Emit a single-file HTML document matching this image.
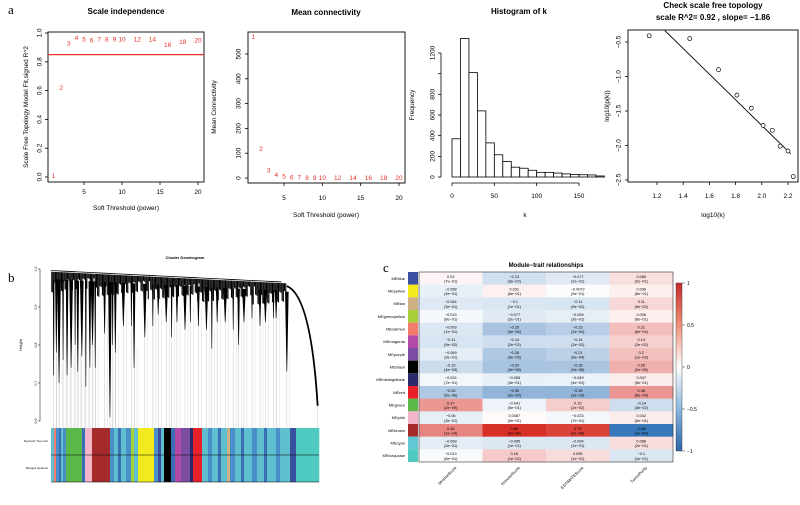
<!DOCTYPE html>
<html><head><meta charset="utf-8"><style>
body{margin:0;background:#fff;width:800px;height:500px;overflow:hidden}
svg{font-family:"Liberation Sans",Arial,sans-serif}
</style></head><body>
<svg id="s" width="800" height="500" viewBox="0 0 800 500"></svg>
<script>
// ---------- DATA ----------
const powers=[1,2,3,4,5,6,7,8,9,10,12,14,16,18,20];
const sftFit=[0.01,0.62,0.93,0.97,0.96,0.95,0.96,0.96,0.96,0.96,0.96,0.96,0.92,0.94,0.95];
const meanK=[570,118,33,14,8,5,4,3,3,3,2,2,2,2,2];
const histCounts=[370,1340,1010,640,330,215,150,95,85,65,45,45,38,30,25,22,20,10];
const histBinWidth=10;
const logK=[1.14,1.45,1.67,1.81,1.92,2.01,2.08,2.14,2.20,2.24];
const logP=[-0.41,-0.45,-0.90,-1.27,-1.46,-1.71,-1.78,-2.01,-2.08,-2.45];
const fitIntercept=2.01, fitSlope=-1.86;
const modules=["MEblue","MEyellow","MEtan","MEgreenyellow","MEsalmon","MEmagenta","MEpurple","MEblack","MEmidnightblue","MEred","MEgreen","MEpink","MEbrown","MEcyan","MEturquoise"];
const moduleColors=["#3a4fa0","#f2ea1c","#cdb083","#a8cf3a","#f47c6d","#b44aa8","#7b4ea3","#000000","#2b2a6a","#e8202a","#5cb848","#f3b6c9","#a52a2a","#5fc8d2","#4ecac0"];
const traits=["StromalScore","ImmuneScore","ESTIMATEScore","TumorPurity"];
const corVals=[
[0.02,-0.13,-0.077,0.085],[-0.058,0.031,-0.0072,0.036],[-0.084,-0.1,-0.11,0.11],[-0.019,-0.077,-0.059,0.036],
[-0.093,-0.29,-0.23,0.21],[-0.11,-0.14,-0.14,0.14],[-0.069,-0.26,-0.21,0.2],[-0.15,-0.29,-0.28,0.26],
[-0.024,-0.058,-0.049,0.047],[-0.26,-0.39,-0.39,0.38],[0.37,-0.041,0.15,-0.14],[-0.06,0.0087,-0.023,0.042],
[0.46,0.89,0.79,-0.82],[-0.069,-0.095,-0.094,0.088],[-0.013,0.16,0.095,-0.1]];
const pVals=[
["7e-01","3e-02","2e-01","2e-01"],["4e-01","6e-01","9e-01","6e-01"],["3e-01","1e-01","9e-02","9e-02"],["8e-01","2e-01","3e-01","6e-01"],
["1e-01","4e-06","2e-04","6e-04"],["9e-02","2e-02","2e-02","2e-02"],["3e-01","3e-05","6e-04","1e-03"],["4e-03","3e-06","9e-06","2e-05"],
["7e-01","4e-01","4e-01","5e-01"],["5e-06","2e-10","2e-10","5e-09"],["2e-09","5e-01","2e-02","3e-02"],["3e-01","9e-01","7e-01","5e-01"],
["1e-14","1e-84","2e-55","1e-63"],["3e-01","1e-01","1e-01","2e-01"],["8e-01","1e-02","1e-01","1e-01"]];
const leafDrops=[[0.01,0.72],[0.02,0.78],[0.03,0.70],[0.045,0.76],[0.06,0.72],[0.075,0.74],[0.09,0.80],[0.1,0.73],[0.115,0.77],[0.13,0.69],[0.145,0.74],[0.155,0.80],[0.165,0.74],[0.2,0.83],[0.22,0.61],[0.23,0.80],[0.24,0.78],[0.27,0.85],[0.3,0.85],[0.31,0.74],[0.35,0.82],[0.38,0.85],[0.4,0.88],[0.43,0.86],[0.45,0.82],[0.47,0.86],[0.5,0.84],[0.52,0.86],[0.55,0.85],[0.58,0.84],[0.6,0.79],[0.62,0.86],[0.65,0.86],[0.68,0.84],[0.7,0.80],[0.72,0.86],[0.75,0.87],[0.78,0.85],[0.8,0.86],[0.83,0.87],[0.84,0.87],[0.88,0.73]];
const colorSegs=[["#5fbfcf",3],["#f47c6d",2],["#4a90c8",3],["#3b6fb5",2],["#5fbfcf",2],["#4a90c8",3],["#5cb848",16],["#3b6fb5",3],["#f3b6c9",7],["#a52a2a",18],["#4a90c8",4],["#5fbfcf",4],["#3b6fb5",3],["#5fbfcf",5],["#4a90c8",5],["#a8cf3a",3],["#5fbfcf",4],["#f2ea1c",16],["#4a90c8",4],["#3a4fa0",3],["#5fbfcf",3],["#000000",7],["#3b6fb5",4],["#b44aa8",6],["#7b4ea3",9],["#2b2a6a",3],["#e8202a",9],["#5fbfcf",6],["#4a90c8",4],["#5fbfcf",6],["#3b6fb5",3],["#5fbfcf",6],["#cdb083",3],["#4a90c8",5],["#5fbfcf",6],["#3b6fb5",3],["#5fbfcf",8],["#4a90c8",5],["#5fbfcf",7],["#3b6fb5",3],["#5fbfcf",9],["#4a90c8",4],["#5fbfcf",10],["#3a4fa0",6],["#4ecac0",23]];

// ---------- HELPERS ----------
const S=document.getElementById('s');const NS="http://www.w3.org/2000/svg";
function el(tag,at,txt){const e=document.createElementNS(NS,tag);for(const k in at)e.setAttribute(k,at[k]);if(txt!==undefined)e.textContent=txt;S.appendChild(e);return e;}
function T(x,y,s,at){return el('text',Object.assign({x:x,y:y,'font-size':7,'text-anchor':'middle',fill:'#000'},at||{}),s);}
function line(x1,y1,x2,y2,c,w){return el('line',{x1,y1,x2,y2,stroke:c||'#000','stroke-width':w||0.8});}
const lin=(d0,d1,r0,r1)=>v=>r0+(v-d0)*(r1-r0)/(d1-d0);

let t;
t=T(8,14,"a",{'font-size':13,'font-family':'Liberation Serif','text-anchor':'start'});


// ---------- PANEL 1 ----------
{const x=lin(5,20,84,198),y=lin(0,1,177,33);
let r=el('rect',{x:48,y:32,width:156,height:150,fill:'none',stroke:'#000','stroke-width':0.9});

t=T(126,14,"Scale independence",{'font-size':8,'font-weight':'bold'});
[5,10,15,20].forEach(v=>{line(x(v),182,x(v),185);T(x(v),194,v,{'font-size':6.5});});
[0,0.2,0.4,0.6,0.8,1.0].forEach(v=>{line(45,y(v),48,y(v));T(40,y(v),v.toFixed(1),{'font-size':6.5,transform:`rotate(-90 40 ${y(v)})`,'dominant-baseline':'middle'});});
t=T(126,210,"Soft Threshold (power)",{'font-size':6.5});
t=T(28,107,"Scale Free Topology Model Fit,signed R^2",{'font-size':6.5,transform:'rotate(-90 28 107)'});
let h=line(48,y(0.85),204,y(0.85),'#e8302a',1.2);
powers.forEach((p,i)=>{const e=T(x(p),y(sftFit[i])+2.5,p,{'font-size':6.5,fill:'#e8302a'});});}

// ---------- PANEL 2 ----------
{const x=lin(5,20,284,399),y=lin(0,500,178,54);
let r=el('rect',{x:248,y:32,width:157,height:151,fill:'none',stroke:'#000','stroke-width':0.9});

t=T(326,15,"Mean connectivity",{'font-size':8,'font-weight':'bold'});
[5,10,15,20].forEach(v=>{line(x(v),183,x(v),186);T(x(v),200,v,{'font-size':6.5});});
[0,100,200,300,400,500].forEach(v=>{line(245,y(v),248,y(v));T(239,y(v),v,{'font-size':6.5,transform:`rotate(-90 239 ${y(v)})`,'dominant-baseline':'middle'});});
T(326,217,"Soft Threshold (power)",{'font-size':6.5});
T(216,107,"Mean Connectivity",{'font-size':6.5,transform:'rotate(-90 216 107)'});
powers.forEach((p,i)=>{const e=T(x(p),y(meanK[i])+2.5,p,{'font-size':6.5,fill:'#e8302a'});});}

// ---------- PANEL 3 ----------
{const x=lin(0,150,452,579),y=lin(0,1200,177,53);
t=T(519,14,"Histogram of k",{'font-size':8,'font-weight':'bold'});
histCounts.forEach((c,i)=>{const b=el('rect',{x:x(i*histBinWidth),y:y(c),width:x(histBinWidth)-x(0),height:y(0)-y(c),fill:'#fff',stroke:'#000','stroke-width':0.8});
});
line(x(0),183,x(150),183);[0,50,100,150].forEach(v=>{line(x(v),183,x(v),186);T(x(v),198,v,{'font-size':6.5});});
line(441,y(0),441,y(1200));[0,200,400,600,800,1000,1200].forEach(v=>line(438,y(v),441,y(v)));
[0,200,400,600,800,1200].forEach(v=>T(433,y(v),v,{'font-size':6.5,transform:`rotate(-90 433 ${y(v)})`,'dominant-baseline':'middle'}));
T(525,217,"k",{'font-size':6.5});
T(414,105,"Frequency",{'font-size':6.5,transform:'rotate(-90 414 105)'});}

// ---------- PANEL 4 ----------
{const x=lin(1.2,2.2,657,788),y=lin(-0.5,-2.5,42,180);
let r=el('rect',{x:628,y:30,width:170,height:152,fill:'none',stroke:'#000','stroke-width':0.9});

T(713,8,"Check scale free topology",{'font-size':8,'font-weight':'bold'});
T(713,20,"scale R^2= 0.92 , slope= \u22121.86",{'font-size':8,'font-weight':'bold'});
[1.2,1.4,1.6,1.8,2.0,2.2].forEach(v=>{line(x(v),182,x(v),185);T(x(v),198,v.toFixed(1),{'font-size':6.5});});
[-0.5,-1.0,-1.5,-2.0,-2.5].forEach(v=>{line(625,y(v),628,y(v));T(619,y(v),v.toFixed(1).replace('-','\u2212'),{'font-size':6.5,transform:`rotate(-90 619 ${y(v)})`,'dominant-baseline':'middle'});});
T(713,217,"log10(k)",{'font-size':6.5});
T(609,106,"log10(p(k))",{'font-size':6.5,transform:'rotate(-90 609 106)'});
const x0=1.26,x1=2.22;let fl=line(x(x0),y(fitIntercept+fitSlope*x0),x(x1),y(fitIntercept+fitSlope*x1),'#000',0.9);

logK.forEach((k,i)=>{const c=el('circle',{cx:x(k),cy:y(logP[i]),r:2,fill:'#fff',stroke:'#000','stroke-width':0.7});});}

// ---------- PANEL B ----------
{t=T(8,282,"b",{'font-size':13,'font-family':'Liberation Serif','text-anchor':'start'});
const X0=51,X1=319,y=lin(1.0,0.6,269,421);
T(185,259,"Cluster Dendrogram",{'font-size':4,'font-weight':'bold'});
line(40,y(1),40,y(0.6),'#000',0.5);[0.6,0.7,0.8,0.9,1.0].forEach(v=>{line(38,y(v),40,y(v),'#000',0.5);T(36,y(v),v.toFixed(1),{'font-size':3.5,transform:`rotate(-90 36 ${y(v)})`,'dominant-baseline':'middle'});});
T(22,345,"Height",{'font-size':4,transform:'rotate(-90 22 345)'});
const topH=f=>f<0.88?0.993-0.035*f:0.96-0.8*(f-0.88);
for(let i=0;i<leafDrops.length;i++){const px=X0+leafDrops[i][0]*(X1-X0);line(px,y(leafDrops[i][1]),px,428,'#c8c8c8',0.5);
 const px2=px+3;line(px2,y(Math.min(0.9,leafDrops[i][1]+0.05)),px2,428,'#d0d0d0',0.4);}
// top line
let d=`M${X0} ${y(0.997)}`;for(let f=0;f<=0.88;f+=0.02)d+=` L${X0+f*(X1-X0)} ${y(topH(f)+0.003)}`;
const topL=el('path',{d:d,fill:'none',stroke:'#000','stroke-width':0.8});
// jagged dense band: many short black ticks hanging from top
for(let f=0.003;f<0.88;f+=0.0045){const px=X0+f*(X1-X0);const k=Math.round(f*1000);const depth=0.012+((k*37)%23)/23*0.05;
 line(px,y(topH(f)),px,y(topH(f)-depth),'#000',1.1);}
// wedges
leafDrops.forEach((dd,i)=>{const f=dd[0],px=X0+f*(X1-X0),tp=y(topH(f)-0.02),w=0.8+(i%3)*0.5;
const b=el('path',{d:`M${px-w} ${tp} L${px+w} ${tp} L${px+0.3} ${y(dd[1])} L${px-0.3} ${y(dd[1])} Z`,fill:'#000'});
});
const rc=el('path',{d:`M${X0+0.88*(X1-X0)} ${y(0.955)} Q${X0+0.97*(X1-X0)} ${y(0.93)} ${X0+0.995*(X1-X0)} ${y(0.64)}`,fill:'none',stroke:'#000','stroke-width':1.8});

line(X0+0.995*(X1-X0),y(0.64),X0+0.995*(X1-X0),428,'#c8c8c8',0.5);
let cx=X0;const tot=colorSegs.reduce((a,s)=>a+s[1],0),sc=(X1-X0)/tot;
colorSegs.forEach(s=>{const r=el('rect',{x:cx,y:428,width:s[1]*sc+0.3,height:54,fill:s[0]});cx+=s[1]*sc;});
line(X0,455,X1,455,'#000',0.6);line(X0,482,X1,482,'#000',0.6);
T(48,442,"Dynamic Tree Cut",{'font-size':3,'text-anchor':'end'});T(48,469,"Merged dynamic",{'font-size':3,'text-anchor':'end'});}

// ---------- PANEL C ----------
{t=T(383,272,"c",{'font-size':13,'font-family':'Liberation Serif','text-anchor':'start'});
const GX=419,GY=272,GW=254,GH=190,rh=GH/modules.length,cw=GW/traits.length;
T(GX+GW/2,267,"Module\u2212trait relationships",{'font-size':6,'font-weight':'bold'});
function col(v){const a=Math.min(1,Math.pow(Math.min(1,Math.abs(v)),0.8)*1.1);const c=v>=0?[214,47,39]:[43,110,180];
return `rgb(${c.map(x=>Math.round(255+(x-255)*a))})`;}
modules.forEach((m,r)=>{const yy=GY+r*rh;
const sw=el('rect',{x:408,y:yy,width:10,height:rh,fill:moduleColors[r]});
T(405,yy+rh/2+1.5,m,{'font-size':4,'text-anchor':'end'});
traits.forEach((tr,c)=>{const cell=el('rect',{x:GX+c*cw,y:yy,width:cw+0.3,height:rh+0.3,fill:col(corVals[r][c])});
T(GX+c*cw+cw/2,yy+rh/2-0.5,String(corVals[r][c]).replace('-','\u2212'),{'font-size':3.8});
T(GX+c*cw+cw/2,yy+rh/2+4.2,"("+pVals[r][c].replace('-','\u2212')+")",{'font-size':3.8});});});
el('rect',{x:GX,y:GY,width:GW,height:GH,fill:'none',stroke:'#333','stroke-width':0.6});
traits.forEach((tr,c)=>{const px=GX+c*cw+cw/2+6,py=468;T(px,py,tr,{'font-size':4,'text-anchor':'end',transform:`rotate(-45 ${px} ${py})`});});
const gr=el('linearGradient',{id:'g',x1:0,y1:0,x2:0,y2:1});
[[0,'#c42a2a'],[0.25,'#f0907a'],[0.5,'#ffffff'],[0.75,'#8ab8dd'],[1,'#2b64a8']].forEach(s=>{const st=document.createElementNS(NS,'stop');st.setAttribute('offset',s[0]);st.setAttribute('stop-color',s[1]);gr.appendChild(st);});
const cb=el('rect',{x:676,y:283,width:6,height:168,fill:'url(#g)',stroke:'#333','stroke-width':0.4});
[[1,'1'],[0.5,'0.5'],[0,'0'],[-0.5,'\u22120.5'],[-1,'\u22121']].forEach(v=>{const yy=283+(1-v[0])/2*168;line(682,yy,685,yy,'#333',0.5);T(687,yy+2,v[1],{'font-size':5,'text-anchor':'start'});});}
</script>
</body></html>
